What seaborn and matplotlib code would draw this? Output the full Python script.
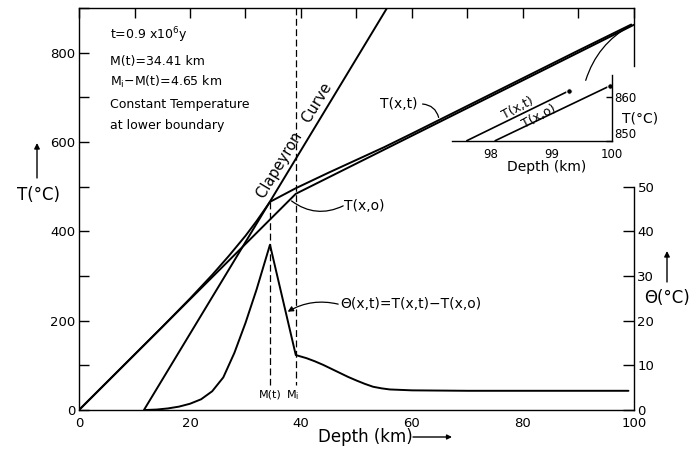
import matplotlib
matplotlib.use("Agg")
import matplotlib.pyplot as plt
import pandas as pd
import seaborn as sns
from matplotlib.ticker import MultipleLocator, FixedLocator

# ---- data (depth in km, temperature in °C) ----
t0_depth = [0.0, 39.06, 100.0]
t0_temp = [0.0, 484.0, 862.5]

tt_depth = [0, 15, 20, 24, 27, 30, 32, 34.41, 39.06, 45, 50, 55, 60, 70, 80, 90, 99.5]
tt_temp = [0, 186, 249.5, 302.5, 345, 390, 423, 466, 496.5, 531.5, 560, 588.5, 619, 681, 743, 805, 863]

clap_depth = [11.7, 55.5]
clap_temp = [0.0, 900.0]

theta_depth = [12, 14, 16, 18, 20, 22, 24, 26, 28, 30, 32, 34.41,
               39.06, 41, 42.5, 44, 45.5, 47, 48.5, 50, 51.5, 53, 54.5, 56, 58, 60, 65, 70, 80, 90, 99]
theta_val = [0, 0.1, 0.35, 0.75, 1.4, 2.4, 4.2, 7.3, 12.8, 19.5, 27, 37,
             12.3, 11.6, 10.9, 10.1, 9.2, 8.3, 7.4, 6.6, 5.85, 5.2, 4.85, 4.6, 4.5, 4.4, 4.35, 4.3, 4.3, 4.3, 4.3]

m_t = 34.41
m_i = m_t + 4.65

# enlarged view near the lower boundary
ins_tt_depth = [97.6, 99.29]
ins_tt_temp = [850.0, 861.3]
ins_t0_depth = [98.07, 99.98]
ins_t0_temp = [850.0, 862.5]

x_ticks = [0, 20, 40, 60, 80, 100]
t_ticks = [0, 200, 400, 600, 800]
theta_ticks = [0, 10, 20, 30, 40, 50]

# ---- style ----
sns.set_theme(style="white")
plt.rcParams["font.family"] = ["DejaVu Sans"]
plt.rcParams["axes.edgecolor"] = "black"
plt.rcParams["axes.linewidth"] = 1.0
plt.rcParams["xtick.color"] = "black"
plt.rcParams["ytick.color"] = "black"
plt.rcParams["text.color"] = "black"

W, H = 689, 453
fig = plt.figure(figsize=(W / 100, H / 100), dpi=100)
fig.patch.set_facecolor("white")

def fb(px_x0, px_y0, px_x1, px_y1):
    return [px_x0 / W, 1 - px_y1 / H, (px_x1 - px_x0) / W, (px_y1 - px_y0) / H]

ax = fig.add_axes(fb(79, 8, 634, 410))
ax.set_facecolor("white")
ax2 = ax.twinx()

lw = 1.4
sns.lineplot(x=clap_depth, y=clap_temp, ax=ax, color="black", lw=lw, estimator=None, sort=False)
sns.lineplot(x=t0_depth, y=t0_temp, ax=ax, color="black", lw=lw, estimator=None, sort=False)
sns.lineplot(x=tt_depth, y=tt_temp, ax=ax, color="black", lw=lw, estimator=None, sort=False)
sns.lineplot(x=theta_depth, y=theta_val, ax=ax2, color="black", lw=lw, estimator=None, sort=False)

ax.set_xlim(0, 100)
ax.set_ylim(0, 900)
ax2.set_ylim(0, 90)
ax.set_xlabel("")
ax.set_ylabel("")
ax2.set_ylabel("")

# phase boundary positions
dash = (0, (5.5, 2.8))
ax.plot([m_t, m_t], [466, 56], color="black", lw=0.9, linestyle=dash)
ax.plot([m_i, m_i], [900, 56], color="black", lw=0.9, linestyle=dash)
ax.text(m_t, 34, "M(t)", ha="center", va="center", fontsize=8)
ax.text(m_i - 0.5, 34, "M$_\\mathrm{i}$", ha="center", va="center", fontsize=8)

# ticks
ax.xaxis.set_major_locator(FixedLocator(x_ticks))
ax.xaxis.set_minor_locator(MultipleLocator(10))
ax.yaxis.set_major_locator(FixedLocator(t_ticks))
ax.yaxis.set_minor_locator(MultipleLocator(100))
ax.tick_params(axis="both", which="both", direction="in", length=7.5, width=1.0,
               top=True, right=False, labelsize=9.5)
ax.tick_params(axis="x", which="both", pad=5)
ax.tick_params(axis="y", which="both", pad=2.5)
ax.spines["right"].set_bounds(770, 900)

ax2.yaxis.set_major_locator(FixedLocator(theta_ticks))
ax2.tick_params(axis="y", which="both", direction="in", length=8, width=1.0,
                labelsize=9.5, pad=2.5, right=True)
for s in ["left", "top", "bottom"]:
    ax2.spines[s].set_visible(False)
ax2.spines["right"].set_bounds(0, 50)

# text block
block = ["t=0.9 x10$^{6}$y", "M(t)=34.41 km", "M$_\\mathrm{i}$\u2212M(t)=4.65 km",
         "Constant Temperature", "at lower boundary"]
block_y = [39.5, 65, 86, 108, 128.5]
for s, py in zip(block, block_y):
    fig.text(110 / W, 1 - py / H, s, ha="left", va="baseline", fontsize=9)

# Clapeyron label along its line
ax.text(38.9, 603, "Clapeyron   Curve", rotation=58.9, rotation_mode="anchor",
        ha="center", va="center", fontsize=10.5)

# curve labels with leaders
ax.text(57.7, 686, "T(x,t)", ha="center", va="center", fontsize=10)
ax.annotate("", xy=(64.8, 655), xytext=(61.9, 685),
            arrowprops=dict(arrowstyle="-", lw=0.9, color="black",
                            connectionstyle="arc3,rad=-0.35", shrinkA=0, shrinkB=0))
ax.text(47.8, 456, "T(x,o)", ha="left", va="center", fontsize=10)
ax.annotate("", xy=(38.3, 468), xytext=(47.6, 457),
            arrowprops=dict(arrowstyle="-", lw=0.9, color="black",
                            connectionstyle="arc3,rad=-0.3", shrinkA=0, shrinkB=0))
ax2.text(47.0, 23.7, "\u0398(x,t)=T(x,t)\u2212T(x,o)", ha="left", va="center", fontsize=10)
ax2.annotate("", xy=(37.6, 22.0), xytext=(46.7, 23.7),
             arrowprops=dict(arrowstyle="-|>", lw=0.9, color="black", mutation_scale=8,
                             connectionstyle="arc3,rad=0.2", shrinkA=0, shrinkB=0))

# connector from the end of T(x,t) to the enlarged view
ax.annotate("", xy=(99.4, 861), xytext=(91.3, 738),
            arrowprops=dict(arrowstyle="-", lw=0.9, color="black",
                            connectionstyle="arc3,rad=-0.2", shrinkA=0, shrinkB=0))

# axis titles with arrows
fig.text(38.5 / W, 1 - 195 / H, "T(°C)", ha="center", va="center", fontsize=12)
ax.annotate("", xy=(37, H - 143), xytext=(37, H - 178), xycoords="figure pixels",
            textcoords="figure pixels",
            arrowprops=dict(arrowstyle="-|>", lw=1.0, color="black", mutation_scale=8,
                            shrinkA=0, shrinkB=0))
fig.text(667 / W, 1 - 298 / H, "\u0398(°C)", ha="center", va="center", fontsize=12)
ax.annotate("", xy=(667, H - 251), xytext=(667, H - 282), xycoords="figure pixels",
            textcoords="figure pixels",
            arrowprops=dict(arrowstyle="-|>", lw=1.0, color="black", mutation_scale=8,
                            shrinkA=0, shrinkB=0))
fig.text(318 / W, 1 - 437 / H, "Depth (km)", ha="left", va="center", fontsize=12)
ax.annotate("", xy=(452, H - 437), xytext=(413, H - 437), xycoords="figure pixels",
            textcoords="figure pixels",
            arrowprops=dict(arrowstyle="-|>", lw=1.0, color="black", mutation_scale=7,
                            shrinkA=0, shrinkB=0))

# enlarged view near 100 km
axi = fig.add_axes(fb(451.7, 75, 611.7, 140.7))
axi.patch.set_alpha(0)
sns.lineplot(x=ins_tt_depth, y=ins_tt_temp, ax=axi, color="black", lw=1.2,
             estimator=None, sort=False, marker="o", markersize=4, markevery=[1])
sns.lineplot(x=ins_t0_depth, y=ins_t0_temp, ax=axi, color="black", lw=1.2,
             estimator=None, sort=False, marker="o", markersize=4, markevery=[1])
axi.set_xlim(97.35, 100)
axi.set_ylim(850, 864.9)
axi.set_xlabel("")
axi.set_ylabel("")
axi.spines["top"].set_visible(False)
axi.spines["left"].set_visible(False)
axi.xaxis.set_major_locator(FixedLocator([98, 99, 100]))
axi.yaxis.set_major_locator(FixedLocator([850, 860]))
axi.yaxis.tick_right()
axi.tick_params(axis="both", direction="in", length=4, width=1.0, labelsize=8.5)
axi.tick_params(axis="x", pad=5.5)
axi.tick_params(axis="y", left=False, right=True, pad=2)
axi.set_yticklabels(["850", "860"])
axi.get_yticklabels()[0].set_va("bottom")
axi.text(98.45, 857.5, "T(x,t)", rotation=28, rotation_mode="anchor",
         ha="center", va="center", fontsize=9)
axi.text(98.8, 855.6, "T(x,o)", rotation=28, rotation_mode="anchor",
         ha="center", va="center", fontsize=9)
fig.text(640 / W, 1 - 118 / H, "T(°C)", ha="center", va="center", fontsize=10)
fig.text(547 / W, 1 - 167 / H, "Depth (km)", ha="center", va="center", fontsize=10)

fig.savefig("out.png", dpi=100, facecolor="white")
